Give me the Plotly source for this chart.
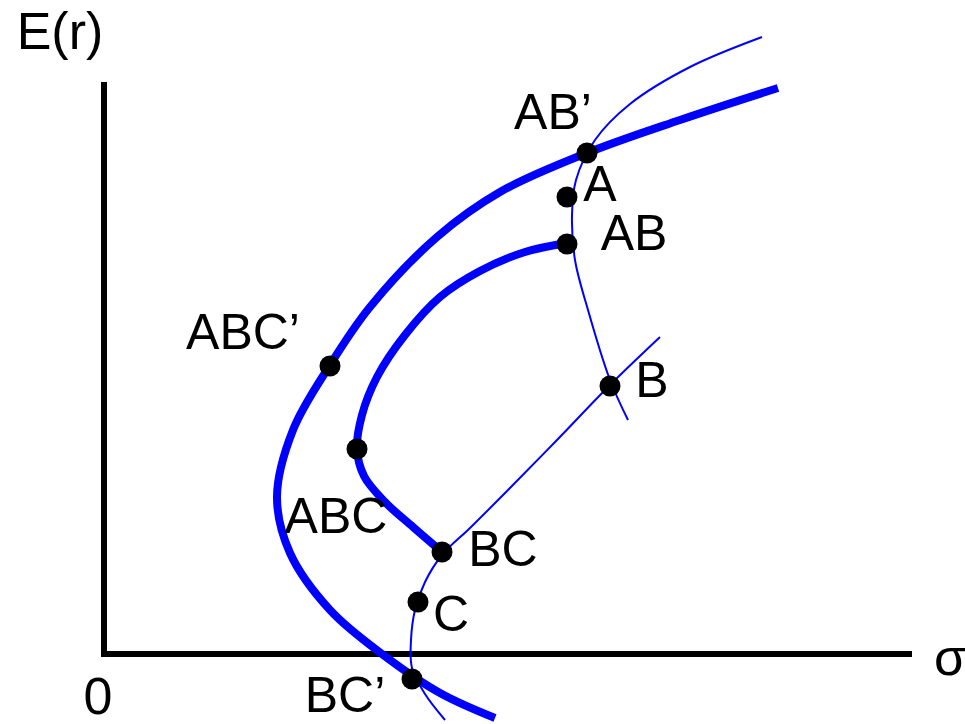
import plotly.graph_objects as go

# Diagram coordinates (x to the right, y downward, same scale as the picture)
axis_x = [104, 104, 912]
axis_y = [82, 654, 654]

outer_x = [778, 680, 587, 500, 437, 370, 330, 293, 277, 290, 330, 382, 440, 495]
outer_y = [88, 120, 153, 192, 237, 307, 365, 430, 497, 553, 610, 654, 693, 718]

inner_x = [567, 525, 480, 440, 405, 377, 362, 357, 364, 385, 413, 442]
inner_y = [243, 252, 271, 297, 335, 377, 415, 449, 476, 502, 527, 552]

ab_x = [762, 690, 630, 595, 576, 572, 575, 588, 610, 628]
ab_y = [37, 67, 104, 140, 180, 215, 260, 310, 380, 420]

bc_x = [660, 610, 557, 507, 470, 442, 425, 415, 411, 412, 425, 445]
bc_y = [337, 385, 440, 491, 528, 555, 582, 610, 640, 668, 694, 720]

dot_names = ["AB’", "A", "AB", "ABC’", "B", "ABC", "BC", "C", "BC’"]
dot_x = [587, 567, 567, 330, 610, 357, 442, 418, 412]
dot_y = [153, 197, 244, 366, 386, 449, 552, 602, 679]

label_x = [553, 600, 634, 243, 652, 336, 503, 451, 345]
label_y = [116, 188, 237, 336, 384, 520, 553, 618, 699]

axis_labels = ["E(r)", "σ", "0"]
axis_label_x = [60, 950, 98]
axis_label_y = [36, 662, 701]

BLUE = "#0000FF"

fig = go.Figure()
fig.add_trace(go.Scatter(x=axis_x, y=axis_y, mode="lines",
                         line=dict(color="black", width=6), hoverinfo="skip"))
fig.add_trace(go.Scatter(x=ab_x, y=ab_y, mode="lines", line_shape="spline",
                         line=dict(color=BLUE, width=2), hoverinfo="skip"))
fig.add_trace(go.Scatter(x=bc_x, y=bc_y, mode="lines", line_shape="spline",
                         line=dict(color=BLUE, width=2), hoverinfo="skip"))
fig.add_trace(go.Scatter(x=outer_x, y=outer_y, mode="lines", line_shape="spline",
                         line=dict(color=BLUE, width=8), hoverinfo="skip"))
fig.add_trace(go.Scatter(x=inner_x, y=inner_y, mode="lines", line_shape="spline",
                         line=dict(color=BLUE, width=8), hoverinfo="skip"))
fig.add_trace(go.Scatter(x=dot_x, y=dot_y, mode="markers",
                         marker=dict(color="black", size=21), hoverinfo="skip"))
fig.add_trace(go.Scatter(x=label_x, y=label_y, mode="text", text=dot_names,
                         textposition="middle center", cliponaxis=False,
                         textfont=dict(family="Liberation Sans", size=50, color="black"),
                         hoverinfo="skip"))
fig.add_trace(go.Scatter(x=axis_label_x, y=axis_label_y, mode="text", text=axis_labels,
                         textposition="middle center", cliponaxis=False,
                         textfont=dict(family="Liberation Sans", size=52, color="black"),
                         hoverinfo="skip"))

fig.update_layout(
    width=965, height=724,
    margin=dict(l=0, r=0, t=0, b=0),
    paper_bgcolor="white", plot_bgcolor="white",
    showlegend=False,
    xaxis=dict(range=[0, 965], visible=False, fixedrange=True),
    yaxis=dict(range=[724, 0], visible=False, fixedrange=True),
)
fig.write_html("out.html", config={"displayModeBar": False},
               post_script="document.body.style.margin='0';document.body.style.overflow='hidden';")
